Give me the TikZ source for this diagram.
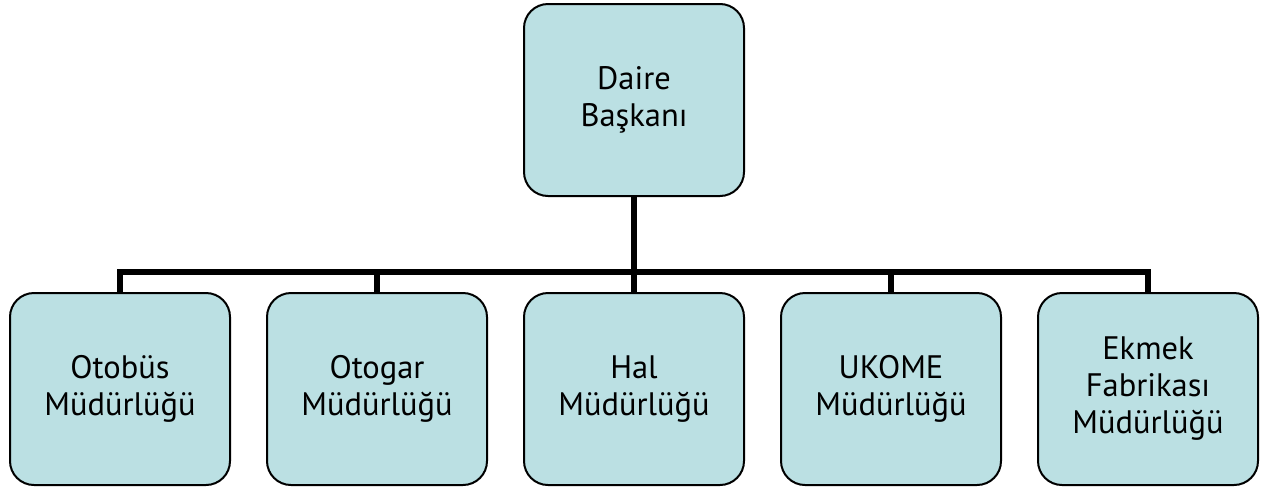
\documentclass[tikz,border=0pt]{standalone}
\usepackage{fontspec}
\setmainfont{PT Sans}
\definecolor{boxfill}{RGB}{187,224,227}
\begin{document}
\begin{tikzpicture}[x=1pt,y=-1pt,
  orgbox/.style={draw=black, line width=2pt, fill=boxfill, rounded corners=24pt,
    minimum width=220pt, minimum height=192pt, align=center, inner sep=0pt,
    font=\fontsize{32.5}{37}\selectfont},
  conn/.style={line width=6pt}]
\useasboundingbox (0,0) rectangle (1268,488);
\node[orgbox] (top) at (634,100) {Daire\\Başkanı};
\node[orgbox] (b1) at (120,389) {Otobüs\\Müdürlüğü};
\node[orgbox] (b2) at (377,389) {Otogar\\Müdürlüğü};
\node[orgbox] (b3) at (634,389) {Hal\\Müdürlüğü};
\node[orgbox] (b4) at (891,389) {UKOME\\Müdürlüğü};
\node[orgbox] (b5) at (1148,389) {Ekmek\\Fabrikası\\Müdürlüğü};
\coordinate (bus) at (634,272);
\draw[conn] (top.south) -- (bus);
\draw[conn] (b1.north) |- (bus);
\draw[conn] (b2.north) |- (bus);
\draw[conn] (b3.north) -- (bus);
\draw[conn] (b4.north) |- (bus);
\draw[conn] (b5.north) |- (bus);
\end{tikzpicture}
\end{document}
